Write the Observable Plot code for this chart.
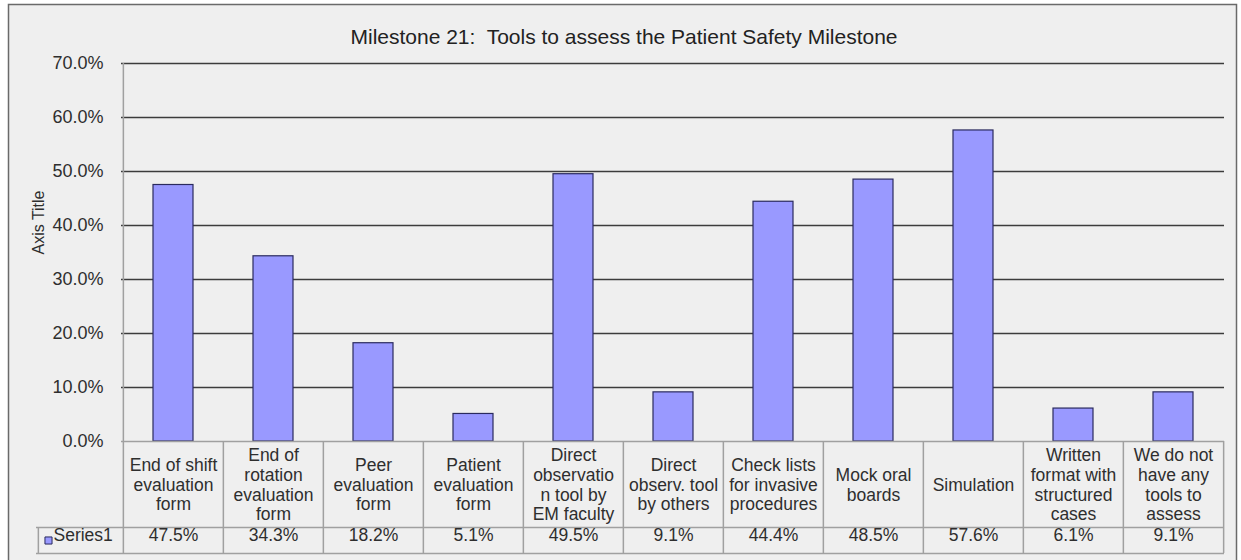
<!DOCTYPE html>
<html><head><meta charset="utf-8">
<script src="https://cdn.jsdelivr.net/npm/d3@7"></script>
<script src="https://cdn.jsdelivr.net/npm/@observablehq/plot@0.6"></script>
<style>body{margin:0;background:#fff}</style>
</head><body><div id="chart"></div>
<script>
const chartTitle = "Milestone 21:  Tools to assess the Patient Safety Milestone";
const yAxisTitle = "Axis Title";
const seriesName = "Series1";
const categories = [
  "End of shift\nevaluation\nform",
  "End of\nrotation\nevaluation\nform",
  "Peer\nevaluation\nform",
  "Patient\nevaluation\nform",
  "Direct\nobservatio\nn tool by\nEM faculty",
  "Direct\nobserv. tool\nby others",
  "Check lists\nfor invasive\nprocedures",
  "Mock oral\nboards",
  "Simulation",
  "Written\nformat with\nstructured\ncases",
  "We do not\nhave any\ntools to\nassess"
];
const series1 = [0.475, 0.343, 0.182, 0.051, 0.495, 0.091, 0.444, 0.485, 0.576, 0.061, 0.091];
const yTicks = [0, 0.1, 0.2, 0.3, 0.4, 0.5, 0.6, 0.7];

const data = categories.map((c, i) => ({cat: c, v: series1[i]}));
const fmt = d3.format(".1%");

const W = 1241, H = 560, mL = 121, mR = 17, mT = 63, mB = 119;
const step = (W - mL - mR) / categories.length;
const tableLine = "#a0a0a0";
const textColor = "#2e2e2e";

const chart = Plot.plot({
  width: W, height: H,
  marginLeft: mL, marginRight: mR, marginTop: mT, marginBottom: mB,
  style: {fontFamily: "'Liberation Sans', Arial, sans-serif", background: "#fff", color: textColor},
  x: {domain: categories, paddingInner: 0.6, paddingOuter: 0.3, axis: null},
  y: {domain: [0, 0.7], axis: null},
  marks: [
    Plot.frame({fill: "#efefef", stroke: "#6a6a6a", strokeWidth: 1.5, insetLeft: -113, insetTop: -59, insetRight: -12, insetBottom: -130}),
    Plot.text([chartTitle], {frameAnchor: "top", dx: -49, dy: -34, fontSize: 21, fill: "#222"}),
    Plot.ruleY(yTicks.slice(1), {stroke: "#3c3c3c", strokeWidth: 1.5}),
    Plot.axisY({ticks: yTicks, tickFormat: fmt, tickSize: 0, tickPadding: 18, fontSize: 18, label: null, fill: textColor}),
    Plot.text([yAxisTitle], {frameAnchor: "left", dx: -83, dy: 2, rotate: -90, fontSize: 16, fill: textColor}),
    Plot.barY(data, {x: "cat", y: "v", fill: "#9999ff", stroke: "#2a2a5e", strokeWidth: 1.2}),
    // data table
    Plot.ruleY([0], {stroke: tableLine, strokeWidth: 1.5}),
    Plot.ruleY([0], {stroke: tableLine, strokeWidth: 1.5, dy: 86, insetLeft: -85}),
    Plot.ruleY([0], {stroke: tableLine, strokeWidth: 1.5, dy: 112, insetLeft: -85}),
    Plot.ruleX([categories[0]], {dx: -step / 2, stroke: tableLine, strokeWidth: 1.5, insetBottom: -112}),
    Plot.ruleX(categories.slice(1), {dx: -step / 2, stroke: tableLine, strokeWidth: 1.5, insetTop: 378, insetBottom: -112}),
    Plot.ruleX([categories[categories.length - 1]], {dx: step / 2, stroke: tableLine, strokeWidth: 1.5, insetTop: 378, insetBottom: -112}),
    Plot.ruleX([categories[0]], {dx: -step / 2 - 85, stroke: tableLine, strokeWidth: 1.5, insetTop: 464, insetBottom: -112}),
    Plot.text(data, {x: "cat", text: "cat", frameAnchor: "bottom", dy: 43, lineAnchor: "middle", fontSize: 17.5, lineHeight: 1.12, fill: textColor}),
    Plot.text(data, {x: "cat", text: (d) => fmt(d.v), frameAnchor: "bottom", dy: 99, fontSize: 17.5, fill: textColor}),
    Plot.dot([seriesName], {frameAnchor: "bottom-left", dx: -73, dy: 99, symbol: "square", r: 4, fill: "#9999ff", stroke: "#2a2a5e", strokeWidth: 1}),
    Plot.text([seriesName], {frameAnchor: "bottom-left", dx: -68, dy: 99, textAnchor: "start", fontSize: 17.5, fill: textColor})
  ]
});
document.getElementById("chart").appendChild(chart);
</script>
</body></html>
